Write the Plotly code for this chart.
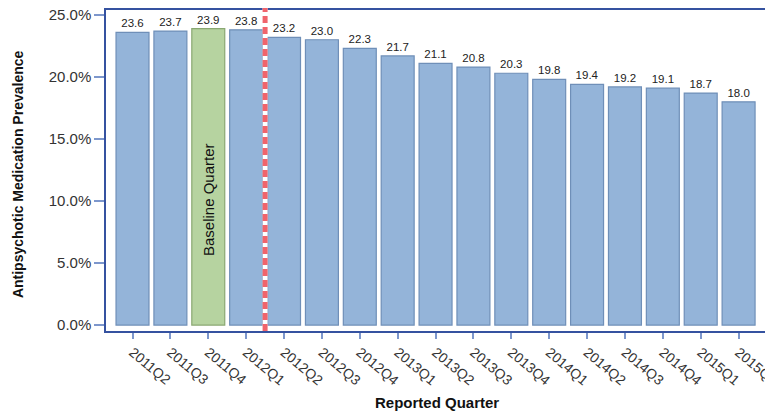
import plotly.graph_objects as go

quarters = ["2011Q2", "2011Q3", "2011Q4", "2012Q1", "2012Q2", "2012Q3", "2012Q4",
            "2013Q1", "2013Q2", "2013Q3", "2013Q4", "2014Q1", "2014Q2", "2014Q3",
            "2014Q4", "2015Q1", "2015Q2"]
prevalence = [23.6, 23.7, 23.9, 23.8, 23.2, 23.0, 22.3, 21.7, 21.1, 20.8, 20.3,
              19.8, 19.4, 19.2, 19.1, 18.7, 18.0]
baseline_quarter = "2011Q4"
y_ticks = [0, 5, 10, 15, 20, 25]
y_tick_labels = [f"{v:.1f}%" for v in y_ticks]

blue_fill, blue_line = "#94b4d9", "#6f8fb8"
green_fill, green_line = "#b6d3a0", "#8aa872"
fills = [green_fill if q == baseline_quarter else blue_fill for q in quarters]
lines = [green_line if q == baseline_quarter else blue_line for q in quarters]

FONT = "Liberation Sans, Arial, sans-serif"

fig = go.Figure()
fig.add_trace(go.Bar(
    x=list(range(len(quarters))), y=prevalence,
    marker=dict(color=fills, line=dict(color=lines, width=1.2)),
    width=0.87,
    text=[f"{v:.1f}" for v in prevalence], textposition="outside",
    textfont=dict(family=FONT, size=11.5, color="#222"),
    cliponaxis=False, hoverinfo="skip",
))

bi = quarters.index(baseline_quarter)
fig.add_annotation(x=bi, y=10.1, text="Baseline Quarter", textangle=-90,
                   showarrow=False, font=dict(family=FONT, size=15, color="#111"))

# separator between baseline period and follow-up
sep = quarters.index("2012Q1") + 0.5
fig.add_shape(type="line", x0=sep, x1=sep, y0=0, y1=1.015, xref="x", yref="paper",
              line=dict(color="white", width=5))
fig.add_shape(type="line", x0=sep, x1=sep, y0=0, y1=1.015, xref="x", yref="paper",
              line=dict(color="#f0646c", width=5, dash="7px,4px"))

# axis titles
fig.add_annotation(xref="paper", yref="paper", x=0.5, y=-0.224, yanchor="middle",
                   text="<b>Reported Quarter</b>", showarrow=False,
                   font=dict(family=FONT, size=15, color="#111"))
fig.add_annotation(xref="paper", yref="paper", x=-0.133, y=0.489, xanchor="center",
                   text="<b>Antipsychotic Medication Prevalence</b>", textangle=-90,
                   showarrow=False, font=dict(family=FONT, size=14, color="#111"))

# page body adds an 8px offset, so the figure is 8px smaller and margins shifted
fig.update_layout(
    width=765, height=406,
    margin=dict(l=98, r=6, t=2, b=83),
    paper_bgcolor="white", plot_bgcolor="white",
    showlegend=False,
    font=dict(family=FONT, size=13, color="#333"),
    xaxis=dict(
        tickmode="array", tickvals=list(range(len(quarters))), ticktext=quarters,
        tickangle=40, range=[-0.7, 16.75], automargin=False,
        ticklabeloverflow="allow",
        showline=True, linecolor="#3552a0", linewidth=1.5, mirror=True,
        ticks="outside", ticklen=6, tickcolor="#7d97cc", tickwidth=2,
        showgrid=False, zeroline=False,
        tickfont=dict(family=FONT, size=14, color="#333"),
    ),
    yaxis=dict(
        range=[-0.48, 25.4], tickmode="array", tickvals=y_ticks, ticktext=y_tick_labels,
        automargin=False, ticklabeloverflow="allow",
        showline=True, linecolor="#3552a0", linewidth=1.5, mirror=True,
        ticks="outside", ticklen=10, tickcolor="#7d97cc", tickwidth=2,
        showgrid=False, zeroline=False,
        tickfont=dict(family=FONT, size=15, color="#333"),
    ),
)

fig.write_html("out.html")
